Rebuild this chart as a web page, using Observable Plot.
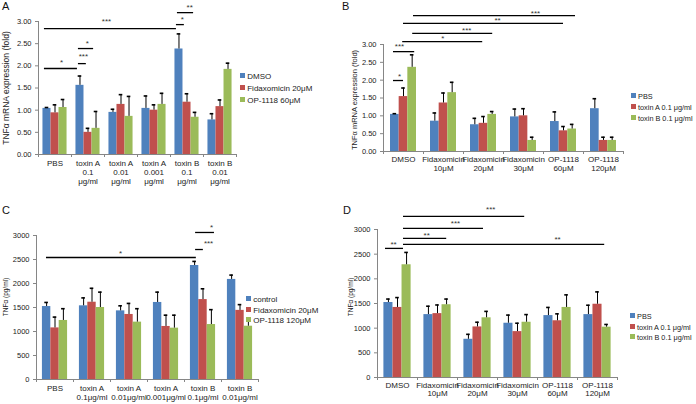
<!DOCTYPE html>
<html><head><meta charset="utf-8">
<script src="https://cdn.jsdelivr.net/npm/d3@7"></script>
<script src="https://cdn.jsdelivr.net/npm/@observablehq/plot@0.6"></script>
<style>
body{margin:0;background:#fff;font-family:"Liberation Sans",Arial,sans-serif;}
#fig{position:relative;width:696px;height:404px;overflow:hidden;background:#fff;}
.panel{position:absolute;}
.letter{position:absolute;font-size:11px;line-height:11px;color:#111;}
.ytitle{position:absolute;white-space:nowrap;color:#222;transform:translate(-50%,-50%) rotate(-90deg);}
.lrow{position:absolute;height:11px;line-height:11px;white-space:nowrap;color:#222;}
.sw{display:inline-block;width:5px;height:5px;vertical-align:middle;position:relative;top:-1px;}
</style></head><body><div id="fig"></div>
<script>
const colors = ["#4F81BD", "#C0504D", "#9BBB59"];

// ---------- Panel A ----------
const groupsA = ["PBS", "toxin A\n0.1\nμg/ml", "toxin A\n0.01\nμg/ml", "toxin A\n0.001\nμg/ml", "toxin B\n0.1\nμg/ml", "toxin B\n0.01\nμg/ml"];
const seriesA = ["DMSO", "Fidaxomicin 20μM", "OP-1118 60μM"];
const aDMSO = [1.04, 1.56, 0.95, 1.04, 2.38, 0.78];
const aDMSOErr = [0.02, 0.21, 0.07, 0.28, 0.34, 0.14];
const aFida = [0.94, 0.50, 1.13, 1.00, 1.18, 1.08];
const aFidaErr = [0.18, 0.09, 0.22, 0.12, 0.19, 0.15];
const aOP = [1.06, 0.59, 0.86, 1.13, 0.84, 1.92];
const aOPErr = [0.18, 0.38, 0.45, 0.25, 0.11, 0.14];
const yTicksA = [0, 0.5, 1, 1.5, 2, 2.5, 3];
// [x1, x2, y, label, labelX, labelY] in data units
const sigA = [
  [0.18, 4.18, 2.84, "***", 2.06, 3.05],
  [0.18, 1.18, 1.94, "*", 0.70, 2.12],
  [1.21, 1.45, 2.05, "***", 1.36, 2.26],
  [1.21, 1.67, 2.39, "*", 1.48, 2.55],
  [4.18, 4.42, 2.93, "*", 4.36, 3.09],
  [4.21, 4.70, 3.20, "**", 4.58, 3.36]
];

// ---------- Panel B ----------
const groupsB = ["DMSO", "Fidaxomicin\n10μM", "Fidaxomicin\n20μM", "Fidaxomicin\n30μM", "OP-1118\n60μM", "OP-1118\n120μM"];
const seriesB = ["PBS", "toxin A 0.1 μg/ml", "toxin B 0.1 μg/ml"];
const bPBS = [1.04, 0.85, 0.75, 0.97, 0.84, 1.20];
const bPBSErr = [0.02, 0.23, 0.18, 0.22, 0.27, 0.28];
const bToxA = [1.54, 1.36, 0.79, 1.00, 0.58, 0.31];
const bToxAErr = [0.24, 0.28, 0.19, 0.20, 0.12, 0.09];
const bToxB = [2.36, 1.65, 1.04, 0.31, 0.63, 0.31];
const bToxBErr = [0.35, 0.29, 0.08, 0.09, 0.13, 0.09];
const yTicksB = [0, 0.5, 1, 1.5, 2, 2.5, 3];
const sigB = [
  [0.75, 4.80, 3.81, "***", 3.80, 3.92],
  [0.50, 4.50, 3.59, "**", 2.85, 3.73],
  [0.73, 2.73, 3.31, "***", 2.08, 3.45],
  [0.48, 2.48, 3.08, "*", 1.48, 3.22],
  [0.25, 0.78, 2.80, "***", 0.40, 3.00],
  [0.25, 0.50, 1.99, "*", 0.40, 2.16]
];

// ---------- Panel C ----------
const groupsC = ["PBS", "toxin A\n0.1μg/ml", "toxin A\n0.01μg/ml", "toxin A\n0.001μg/ml", "toxin B\n0.1μg/ml", "toxin B\n0.01μg/ml"];
const seriesC = ["control", "Fidaxomicin 20μM", "OP-1118 120μM"];
const cCtrl = [1520, 1535, 1430, 1605, 2375, 2085];
const cCtrlErr = [85, 165, 105, 215, 85, 90];
const cFida = [1075, 1610, 1355, 1105, 1665, 1440];
const cFidaErr = [225, 290, 230, 235, 225, 120];
const cOP = [1230, 1500, 1195, 1070, 1145, 1110];
const cOPErr = [245, 320, 280, 270, 310, 155];
const yTicksC = [0, 500, 1000, 1500, 2000, 2500, 3000];
const sigC = [
  [0.27, 4.32, 2542, "*", 2.27, 2667],
  [4.30, 4.51, 2708, "***", 4.65, 2875],
  [4.30, 4.81, 3063, "*", 4.73, 3208]
];

// ---------- Panel D ----------
const groupsD = ["DMSO", "Fidaxomicin\n10μM", "Fidaxomicin\n20μM", "Fidaxomicin\n30μM", "OP-1118\n60μM", "OP-1118\n120μM"];
const seriesD = ["PBS", "toxin A 0.1 μg/ml", "toxin B 0.1 μg/ml"];
const dPBS = [1520, 1275, 775, 1100, 1255, 1275];
const dPBSErr = [70, 170, 100, 165, 165, 190];
const dToxA = [1420, 1295, 1025, 930, 1150, 1485];
const dToxAErr = [200, 175, 95, 170, 140, 250];
const dToxB = [2285, 1475, 1210, 1120, 1420, 1020];
const dToxBErr = [250, 115, 130, 155, 255, 55];
const yTicksD = [0, 500, 1000, 1500, 2000, 2500, 3000];
const sigD = [
  [0.65, 3.68, 3266, "***", 2.83, 3448],
  [0.65, 2.65, 3022, "***", 1.95, 3164],
  [0.65, 1.73, 2819, "**", 1.23, 2921],
  [0.65, 5.68, 2698, "**", 4.50, 2840],
  [0.20, 0.65, 2617, "**", 0.40, 2738]
];

const fig = document.getElementById("fig");

function panel(cfg) {
  const {left, top, width, height, mL, mR, mT, mB, yMax, yTicks, yFmt, groups, series, vals, errs, pad, sig, lineHeight, tickPad,
         letter, letterPos, ytitle, ytitlePos, ytitleSize, legendX, legendY, legendSize} = cfg;
  const n = groups.length;
  const gpx = (width - mL - mR) / n;
  const bw = (1 - 2 * pad) / series.length;
  const cap = 1.8 / gpx;
  const rows = [];
  series.forEach((s, j) => vals[j].forEach((v, i) => rows.push({
    s, v, e: errs[j][i],
    x1: i + pad + j * bw, x2: i + pad + (j + 1) * bw, xc: i + pad + (j + 0.5) * bw
  })));
  const svg = Plot.plot({
    width, height, marginLeft: mL, marginRight: mR, marginTop: mT, marginBottom: mB,
    style: {fontFamily: "'Liberation Sans', Arial, sans-serif", fontSize: "8px", background: "transparent", overflow: "visible"},
    x: {type: "linear", domain: [0, n], label: null},
    y: {domain: [0, yMax], label: null},
    color: {domain: series, range: colors},
    marks: [
      Plot.rectY(rows, {x1: "x1", x2: "x2", y: "v", fill: "s"}),
      Plot.ruleX(rows, {x: "xc", y1: "v", y2: d => d.v + d.e, stroke: "#000", strokeWidth: 1}),
      Plot.ruleY(rows, {y: d => d.v + d.e, x1: d => d.xc - cap, x2: d => d.xc + cap, stroke: "#000", strokeWidth: 1.6}),
      Plot.ruleX([0], {y1: 0, y2: yMax, stroke: "#868686"}),
      Plot.ruleY([0], {stroke: "#868686"}),
      Plot.axisY({ticks: yTicks, tickFormat: yFmt, tickSize: 3, tickPadding: 4, stroke: "#868686", fill: "#222", fontSize: 7.5, label: null}),
      Plot.axisX({ticks: d3.range(n + 1), tickSize: 3, tickFormat: () => "", stroke: "#868686", label: null}),
      Plot.axisX({ticks: groups.map((g, i) => i + 0.5), tickSize: 0, tickPadding: tickPad, tickFormat: d => groups[Math.floor(d)],
                  lineHeight, fontSize: 8, fill: "#222", label: null}),
      Plot.ruleY(sig, {y: d => d[2], x1: d => d[0], x2: d => d[1], stroke: "#000", strokeWidth: 1.3}),
      Plot.text(sig, {x: d => d[4], y: d => d[5], text: d => d[3], fontSize: 8, fill: "#333", dy: 2})
    ]
  });
  const wrap = document.createElement("div");
  wrap.className = "panel";
  wrap.style.left = left + "px";
  wrap.style.top = top + "px";
  wrap.appendChild(svg);
  fig.appendChild(wrap);

  const L = document.createElement("div");
  L.className = "letter";
  L.textContent = letter;
  L.style.left = letterPos[0] + "px";
  L.style.top = letterPos[1] + "px";
  fig.appendChild(L);

  const T = document.createElement("div");
  T.className = "ytitle";
  T.textContent = ytitle;
  T.style.left = ytitlePos[0] + "px";
  T.style.top = ytitlePos[1] + "px";
  T.style.fontSize = ytitleSize + "px";
  fig.appendChild(T);

  series.forEach((s, j) => {
    const r = document.createElement("div");
    r.className = "lrow";
    r.style.left = legendX + "px";
    r.style.top = (legendY[j] - 5.5) + "px";
    r.style.fontSize = legendSize + "px";
    const sw = document.createElement("span");
    sw.className = "sw";
    sw.style.background = colors[j];
    r.appendChild(sw);
    r.appendChild(document.createTextNode("\u00a0" + s));
    fig.appendChild(r);
  });
}

const f2 = d3.format(".2f");
const f0 = d3.format("d");

panel({left: 0, top: 0, width: 345, height: 200, mL: 38, mR: 109, mT: 21, mB: 46, yMax: 3, yTicks: yTicksA, yFmt: f2,
  groups: groupsA, series: seriesA, vals: [aDMSO, aFida, aOP], errs: [aDMSOErr, aFidaErr, aOPErr], pad: 0.135, sig: sigA,
  lineHeight: 1.14, tickPad: 5, letter: "A", letterPos: [2, 0.5], ytitle: "TNFα mRNA expression (fold)", ytitlePos: [6, 88], ytitleSize: 8.5,
  legendX: 240, legendY: [76, 88, 100], legendSize: 8});

panel({left: 345, top: 0, width: 351, height: 200, mL: 38, mR: 73, mT: 44, mB: 49, yMax: 3, yTicks: yTicksB, yFmt: f2,
  groups: groupsB, series: seriesB, vals: [bPBS, bToxA, bToxB], errs: [bPBSErr, bToxAErr, bToxBErr], pad: 0.175, sig: sigB,
  lineHeight: 1.04, tickPad: 5, letter: "B", letterPos: [342, 1], ytitle: "TNFα mRNA expression (fold)", ytitlePos: [354, 100], ytitleSize: 7.5,
  legendX: 631, legendY: [96, 107, 118], legendSize: 7.3});

panel({left: 0, top: 200, width: 345, height: 204, mL: 36, mR: 87, mT: 35, mB: 25, yMax: 3000, yTicks: yTicksC, yFmt: f0,
  groups: groupsC, series: seriesC, vals: [cCtrl, cFida, cOP], errs: [cCtrlErr, cFidaErr, cOPErr], pad: 0.16, sig: sigC,
  lineHeight: 1.04, tickPad: 6, letter: "C", letterPos: [2, 205], ytitle: "TNFα (pg/ml)", ytitlePos: [5, 297], ytitleSize: 6.5,
  legendX: 246, legendY: [299, 310, 320], legendSize: 8});

panel({left: 345, top: 200, width: 351, height: 204, mL: 32, mR: 79, mT: 29, mB: 27, yMax: 3000, yTicks: yTicksD, yFmt: f0,
  groups: groupsD, series: seriesD, vals: [dPBS, dToxA, dToxB], errs: [dPBSErr, dToxAErr, dToxBErr], pad: 0.16, sig: sigD,
  lineHeight: 1.0, tickPad: 5, letter: "D", letterPos: [343, 205], ytitle: "TNFα (pg/ml)", ytitlePos: [350, 297], ytitleSize: 6.5,
  legendX: 630, legendY: [316, 327, 337], legendSize: 7.3});
</script>
</body></html>
